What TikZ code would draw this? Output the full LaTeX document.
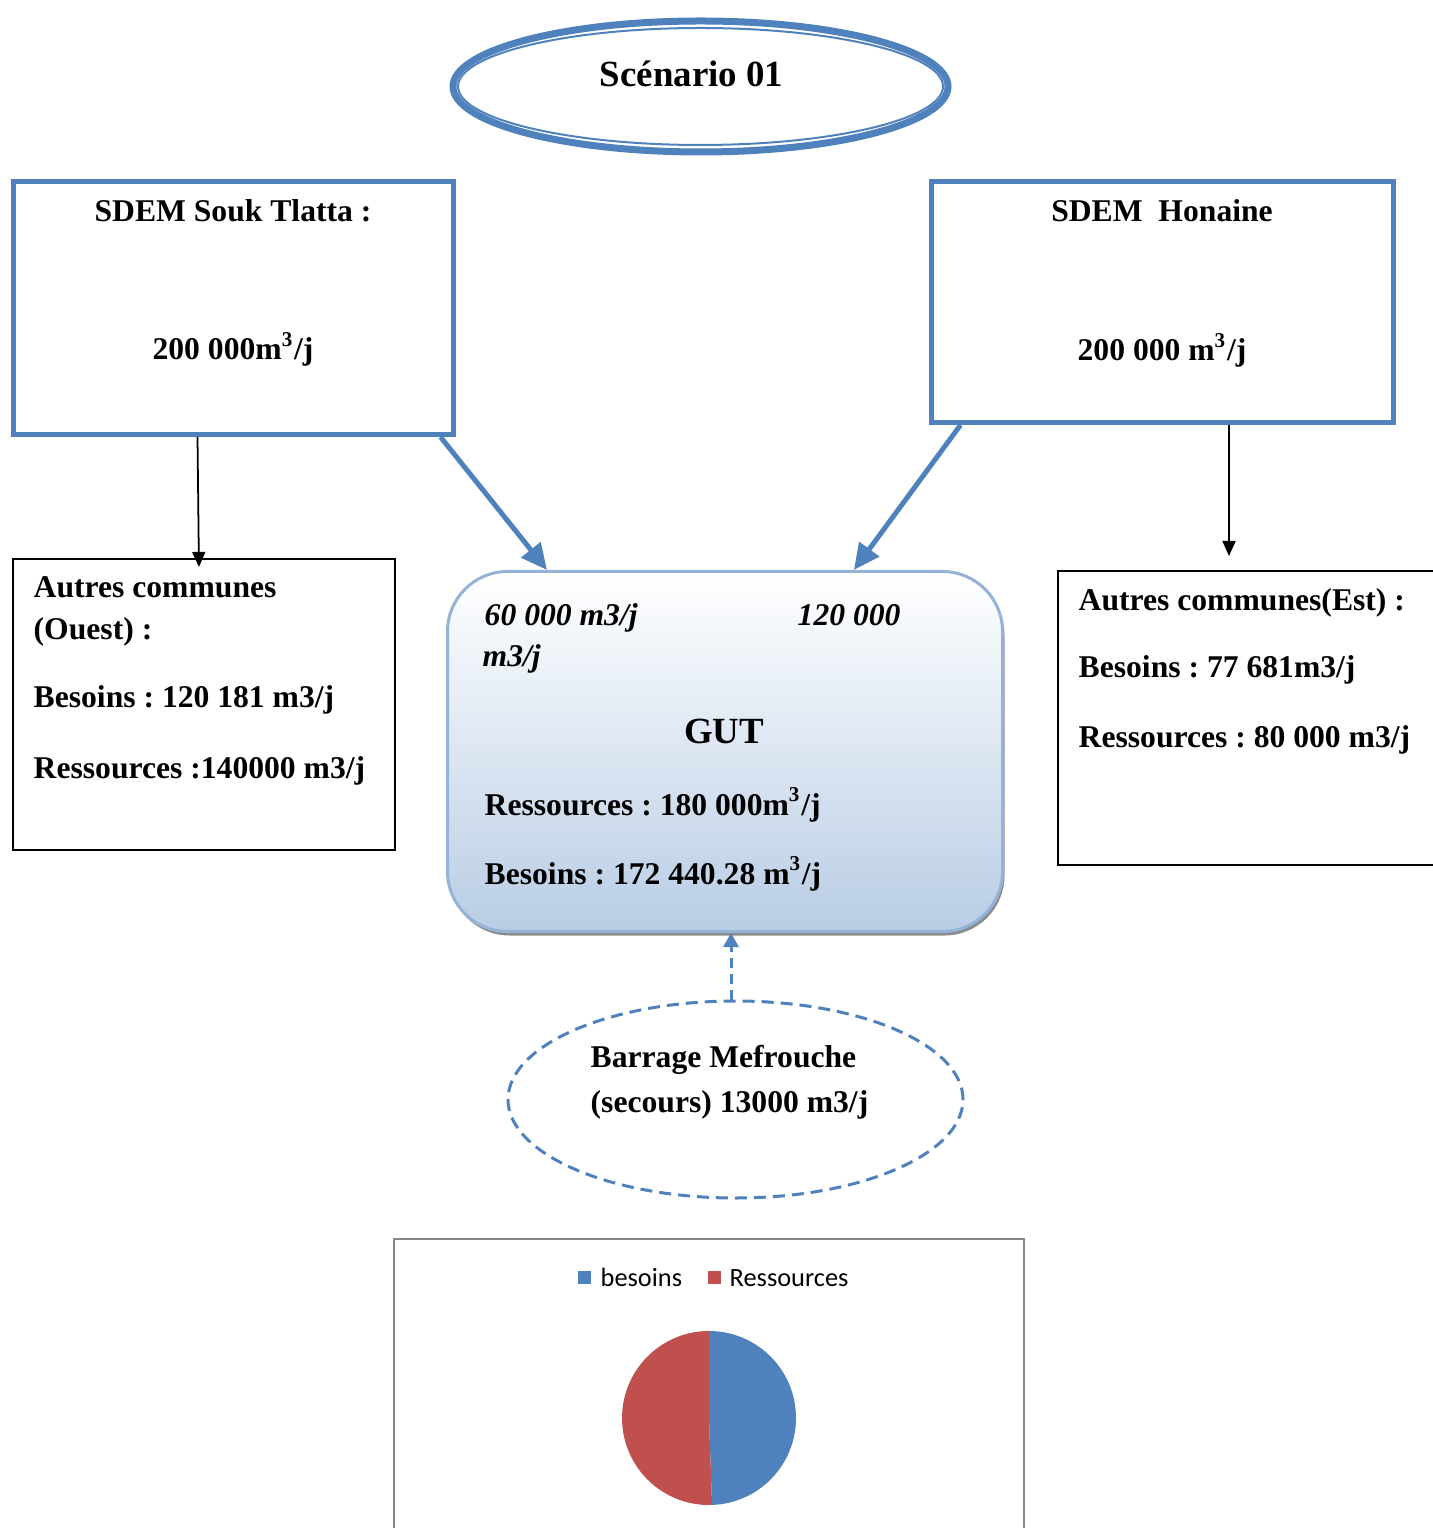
\documentclass[tikz,border=0pt]{standalone}
\usepackage{fontspec}
\setmainfont{Liberation Serif}
\newfontfamily\calibri{Carlito}
\usetikzlibrary{positioning,arrows.meta,shapes.geometric,calc,shadows}
\frenchspacing
\definecolor{scbleu}{HTML}{4F81BD}
\definecolor{scbleuclair}{HTML}{B9CDE5}
\definecolor{scbleubord}{HTML}{95B3D7}
\definecolor{scrouge}{HTML}{C0504D}
\definecolor{scgris}{HTML}{868686}
\tikzset{
  scsdem/.style={draw=scbleu, line width=0.05cm, inner sep=0pt},
  sccommune/.style={draw=black, line width=0.6pt, inner sep=0pt},
  sctexte/.style={font=\fontsize{9}{11}\selectfont\bfseries, inner sep=0pt},
  scgrand/.style={font=\fontsize{10.5}{12}\selectfont\bfseries, inner sep=0pt},
  sclegende/.style={font=\fontsize{7.5}{9}\selectfont\calibri, inner sep=0pt},
  scfleche/.style={-{Triangle[length=2.6mm,width=2.4mm]}, line width=0.05cm, draw=scbleu},
  scflechenoire/.style={-{Triangle[length=1.5mm,width=1.3mm]}, line width=0.5pt, draw=black},
  scflechetiret/.style={-{Triangle[length=1.4mm,width=1.5mm]}, line width=0.03cm, draw=scbleu, dash pattern=on 1mm off 0.6mm},
}

\begin{document}
\begin{tikzpicture}
    \useasboundingbox (0,0) rectangle (14.33,-15.28);
    % titre
    \node[ellipse, draw=scbleu, line width=0.07cm, minimum width=4.95cm, minimum height=1.31cm, inner sep=0pt] (scen) at (7.005,-0.865) {};
    \draw[scbleu, line width=0.02cm] (scen.center) ellipse [x radius=2.425, y radius=0.585];
    \node[scgrand, anchor=base] (titre) at (6.915,-0.87) {Scénario 01};
    % stations de dessalement
    \node[scsdem, minimum width=4.40cm, minimum height=2.53cm] (souk) at (2.335,-3.08) {};
    \node[sctexte, anchor=base] (souktitre) at (2.33,-2.22) {SDEM Souk Tlatta :};
    \node[sctexte, anchor=base] (soukval) at (2.33,-3.60) {200 000m\textsuperscript{3}/j};
    \node[scsdem, minimum width=4.62cm, minimum height=2.41cm] (honaine) at (11.625,-3.02) {};
    \node[sctexte, anchor=base] (hontitre) at (11.62,-2.22) {SDEM\ \ Honaine};
    \node[sctexte, anchor=base] (honval) at (11.62,-3.61) {200 000 m\textsuperscript{3}/j};
    % GUT
    \node[rounded corners=0.6cm, draw=scbleubord, line width=0.03cm, top color=white, bottom color=scbleuclair,
          minimum width=5.55cm, minimum height=3.60cm, inner sep=0pt,
          drop shadow={shadow xshift=0.2mm, shadow yshift=-0.4mm, fill=black!45, opacity=1}] (gut) at (7.25,-7.515) {};
    \node[sctexte, anchor=base west] (gutg1) at (4.84,-6.26) {\itshape 60 000 m3/j};
    \node[sctexte, anchor=base west] (gutg2) at (4.82,-6.67) {\itshape m3/j};
    \node[sctexte, anchor=base west] (gutd) at (7.97,-6.26) {\itshape 120 000};
    \node[scgrand, anchor=base] (guttitre) at (7.24,-7.43) {GUT};
    \node[sctexte, anchor=base west] (gutres) at (4.84,-8.15) {Ressources : 180 000m\textsuperscript{3}/j};
    \node[sctexte, anchor=base west] (gutbes) at (4.84,-8.84) {Besoins : 172 440.28 m\textsuperscript{3}/j};
    % autres communes
    \node[sccommune, minimum width=3.82cm, minimum height=2.91cm] (ouest) at (2.04,-7.045) {};
    \node[sctexte, anchor=base west] (ouest1) at (0.33,-5.98) {Autres communes};
    \node[sctexte, anchor=base west] (ouest2) at (0.33,-6.40) {(Ouest) :};
    \node[sctexte, anchor=base west] (ouest3) at (0.33,-7.07) {Besoins : 120 181 m3/j};
    \node[sctexte, anchor=base west] (ouest4) at (0.33,-7.78) {Ressources :140000 m3/j};
    \node[sccommune, minimum width=3.92cm, minimum height=2.94cm] (est) at (12.54,-7.18) {};
    \node[sctexte, anchor=base west] (est1) at (10.78,-6.10) {Autres communes(Est) :};
    \node[sctexte, anchor=base west] (est2) at (10.78,-6.78) {Besoins : 77 681m3/j};
    \node[sctexte, anchor=base west] (est3) at (10.78,-7.47) {Ressources : 80 000 m3/j};
    \coordinate (estfin) at (12.29,-5.56);
    % fleches
    \draw[scfleche] ($(souk.south east)+(-0.155,0)$) -- ($(gut.north west)!0.181!(gut.north east)$);
    \draw[scfleche] ($(honaine.south west)+(0.315,0)$) -- ($(gut.north west)!0.731!(gut.north east)$);
    \draw[scflechenoire] ($(souk.south west)+(1.865,0)$) -- ($(ouest.north west)+(1.87,-0.09)$);
    \draw[scflechenoire] (honaine.south -| estfin) -- (estfin);
    % barrage
    \node[ellipse, draw=scbleu, line width=0.03cm, dash pattern=on 1.2mm off 0.7mm, minimum width=4.55cm, minimum height=1.97cm, inner sep=0pt] (barrage) at (7.355,-10.995) {};
    \node[sctexte, anchor=base west] (barrage1) at (5.90,-10.67) {Barrage Mefrouche};
    \node[sctexte, anchor=base west] (barrage2) at (5.90,-11.12) {(secours) 13000 m3/j};
    \draw[scflechetiret] ($(barrage.north)+(-0.045,0)$) -- ($(barrage.north |- gut.south)+(-0.045,0)$);
    % graphique
    \node[draw=scgris, line width=0.02cm, minimum width=6.30cm, minimum height=3.2cm, inner sep=0pt, anchor=north] (graphe) at (7.09,-12.38) {};
    \node[fill=scbleu, minimum size=0.13cm, inner sep=0pt] (legbes) at (5.845,-12.77) {};
    \node[sclegende, anchor=base west] (legbestxt) at (6.00,-12.86) {besoins};
    \node[fill=scrouge, minimum size=0.13cm, inner sep=0pt] (legres) at (7.145,-12.77) {};
    \node[sclegende, anchor=base west] (legrestxt) at (7.29,-12.86) {Ressources};
    \coordinate (camembert) at (7.09,-14.18);
    \fill[scbleu] (camembert) -- ++(90:0.87) arc[start angle=90, end angle=-88, radius=0.87] -- cycle;
    \fill[scrouge] (camembert) -- ++(-88:0.87) arc[start angle=-88, end angle=-270, radius=0.87] -- cycle;
\end{tikzpicture}
\end{document}
